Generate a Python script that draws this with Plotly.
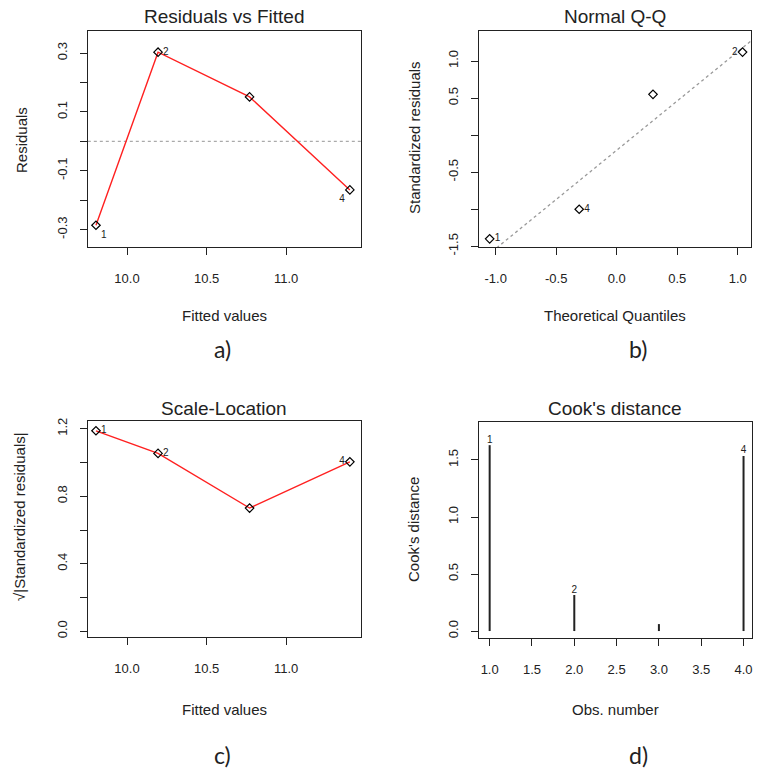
import numpy as np
import plotly.graph_objects as go

# ---- data ----
obs = [1, 2, 3, 4]
obs_labels = ["1", "2", "", "4"]
fitted = [9.805, 10.195, 10.77, 11.40]
residuals = [-0.285, 0.303, 0.151, -0.165]
theo_q = [-1.05, 1.04, 0.30, -0.31]
std_res = [-1.40, 1.12, 0.55, -1.00]
sqrt_abs_std = [1.188, 1.054, 0.73, 1.004]
cooks = [1.63, 0.316, 0.061, 1.535]

W, H = 757, 772
FONT = "Liberation Sans, Arial, sans-serif"
TXT = "#222222"

def xd(a, b):
    return [a / W, b / W]

def yd(top, bottom):
    return [1 - bottom / H, 1 - top / H]

fig = go.Figure()

marker = dict(symbol="diamond-open", size=6.5, color="black", line=dict(width=1.2, color="black"))
order = np.argsort(fitted)

# ---- c) Scale-Location (axes x / y) ----
fig.add_trace(go.Scatter(x=[fitted[i] for i in order], y=[sqrt_abs_std[i] for i in order], mode="lines",
                         line=dict(color="#ff2020", width=1.4), xaxis="x", yaxis="y"))
fig.add_trace(go.Scatter(x=fitted, y=sqrt_abs_std, mode="markers+text", marker=marker,
                         text=obs_labels,
                         textposition=["middle right", "middle right", "middle right", "middle left"],
                         textfont=dict(size=10, color=TXT, family=FONT), xaxis="x", yaxis="y"))

# ---- a) Residuals vs Fitted (axes x3 / y3) ----
fig.add_trace(go.Scatter(x=[9.0, 12.0], y=[0, 0], mode="lines",
                         line=dict(color="#aaaaaa", width=1.2, dash="dot"), xaxis="x3", yaxis="y3"))
fig.add_trace(go.Scatter(x=[fitted[i] for i in order], y=[residuals[i] for i in order], mode="lines",
                         line=dict(color="#ff2020", width=1.4), xaxis="x3", yaxis="y3"))
fig.add_trace(go.Scatter(x=fitted, y=residuals, mode="markers+text", marker=marker,
                         text=obs_labels,
                         textposition=["bottom right", "middle right", "middle right", "bottom left"],
                         textfont=dict(size=10, color=TXT, family=FONT), xaxis="x3", yaxis="y3"))

# ---- b) Normal Q-Q ----
yq1, yq3 = np.percentile(std_res, [25, 75])
xq1, xq3 = -0.6744898, 0.6744898
slope = (yq3 - yq1) / (xq3 - xq1)
inter = yq1 - slope * xq1
qx = np.array([-1.3, 1.3])
fig.add_trace(go.Scatter(x=qx, y=inter + slope * qx, mode="lines",
                         line=dict(color="#999999", width=1.3, dash="dot"), xaxis="x2", yaxis="y2"))
fig.add_trace(go.Scatter(x=theo_q, y=std_res, mode="markers+text", marker=marker,
                         text=obs_labels,
                         textposition=["middle right", "middle left", "middle right", "middle right"],
                         textfont=dict(size=10, color=TXT, family=FONT), xaxis="x2", yaxis="y2"))

# ---- d) Cook's distance ----
hx, hy = [], []
for o, c in zip(obs, cooks):
    hx += [o, o, None]
    hy += [0, c, None]
fig.add_trace(go.Scatter(x=hx, y=hy, mode="lines", line=dict(color="#222222", width=2),
                         xaxis="x4", yaxis="y4"))
fig.add_trace(go.Scatter(x=obs, y=cooks, mode="text", text=obs_labels, textposition="top center",
                         textfont=dict(size=10, color=TXT, family=FONT), xaxis="x4", yaxis="y4"))

tickfont = dict(size=13, color=TXT, family=FONT)
common_x = dict(showline=True, mirror=True, linecolor="#222222", linewidth=1.3, ticks="outside",
                ticklen=7, tickwidth=1.3, tickcolor="#222222", showgrid=False, zeroline=False,
                tickfont=tickfont, ticklabelstandoff=12, automargin=False)
common_y = dict(showline=True, mirror=True, linecolor="#222222", linewidth=1.3, ticks="outside",
                ticklen=7, tickwidth=1.3, tickcolor="#222222", showgrid=False, zeroline=False,
                tickfont=tickfont, tickangle=-90, ticklabelstandoff=8, automargin=False)

fig.update_layout(
    width=W, height=H, margin=dict(l=0, r=0, t=0, b=0),
    paper_bgcolor="white", plot_bgcolor="white", showlegend=False,
    font=dict(family=FONT, color=TXT),
    xaxis3=dict(common_x, domain=xd(88, 361), range=[9.755, 11.47], anchor="y3",
                tickvals=[10.0, 10.5, 11.0], ticktext=["10.0", "10.5", "11.0"]),
    yaxis3=dict(common_y, domain=yd(31, 247), range=[-0.359, 0.375], anchor="x3",
                tickvals=[-0.3, -0.2, -0.1, 0, 0.1, 0.2, 0.3],
                ticktext=["-0.3", "", "-0.1", "", "0.1", "", "0.3"]),
    xaxis2=dict(common_x, domain=xd(479, 751), range=[-1.138, 1.11], anchor="y2",
                tickvals=[-1.0, -0.5, 0.0, 0.5, 1.0], ticktext=["-1.0", "-0.5", "0.0", "0.5", "1.0"]),
    yaxis2=dict(common_y, domain=yd(31, 247), range=[-1.51, 1.405], anchor="x2",
                tickvals=[-1.5, -1.0, -0.5, 0, 0.5, 1.0],
                ticktext=["-1.5", "", "-0.5", "", "0.5", "1.0"]),
    xaxis=dict(common_x, domain=xd(88, 361), range=[9.755, 11.47], anchor="y",
               tickvals=[10.0, 10.5, 11.0], ticktext=["10.0", "10.5", "11.0"]),
    yaxis=dict(common_y, domain=yd(421, 637), range=[-0.034, 1.246], anchor="x",
               tickvals=[0, 0.2, 0.4, 0.6, 0.8, 1.0, 1.2],
               ticktext=["0.0", "", "0.4", "", "0.8", "", "1.2"]),
    xaxis4=dict(common_x, domain=xd(479, 752), range=[0.874, 4.10], anchor="y4",
                tickvals=[1.0, 1.5, 2.0, 2.5, 3.0, 3.5, 4.0],
                ticktext=["1.0", "1.5", "2.0", "2.5", "3.0", "3.5", "4.0"]),
    yaxis4=dict(common_y, domain=yd(422, 638), range=[-0.061, 1.833], anchor="x4",
                tickvals=[0, 0.5, 1.0, 1.5], ticktext=["0.0", "0.5", "1.0", "1.5"]),
)

def ann(text, x, y, size, angle=0, family=FONT):
    fig.add_annotation(text=text, x=x / W, y=1 - y / H, xref="paper", yref="paper",
                       showarrow=False, textangle=angle, xanchor="center", yanchor="middle",
                       font=dict(size=size, color=TXT, family=family))

# titles
ann("Residuals vs Fitted", 224, 17, 19)
ann("Normal Q-Q", 615, 17, 19)
ann("Scale-Location", 224, 408, 19)
ann("Cook's distance", 615, 408, 19)
# axis titles
ann("Fitted values", 224, 315, 15)
ann("Theoretical Quantiles", 615, 315, 15)
ann("Fitted values", 224, 709, 15)
ann("Obs. number", 615, 709, 15)
ann("Residuals", 22, 140, 15, -90)
ann("Standardized residuals", 415, 138, 15, -90)
ann("√|Standardized residuals|", 19, 517, 15, -90)
ann("Cook's distance", 413, 530, 15, -90)
# panel letters
ann("a)", 223, 349, 23, family="Lato, Open Sans, sans-serif")
ann("b)", 638, 349, 23, family="Lato, Open Sans, sans-serif")
ann("c)", 222, 755, 23, family="Lato, Open Sans, sans-serif")
ann("d)", 638, 755, 23, family="Lato, Open Sans, sans-serif")

fig.write_html("out.html")
